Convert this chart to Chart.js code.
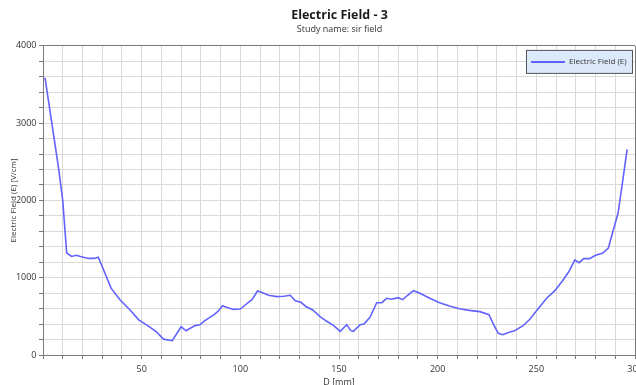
<!DOCTYPE html>
<html>
<head>
<meta charset="utf-8">
<script src="https://cdn.jsdelivr.net/npm/chart.js@4/dist/chart.umd.min.js"></script>
<style>
  html, body { margin: 0; padding: 0; overflow: hidden; background: #ffffff; }
  #wrap { position: relative; width: 679px; height: 388px; }
</style>
</head>
<body>
<div id="wrap"><canvas id="chart" width="679" height="388"></canvas></div>
<script>
// Field magnitude along the probe line
const distanceMm = [
  1, 4, 8, 10, 12, 14.5, 17, 19, 23, 26, 28, 30, 34.5, 39, 44, 48.5, 52.5, 57.5, 61, 65.5,
  70, 72.5, 77, 79.5, 82, 86.5, 88.5, 91, 93, 96.5, 100, 102.5, 106, 108.7, 111, 114.3, 118.5,
  122, 125.3, 127.8, 130.7, 133.4, 136.7, 140.4, 143.8, 147.2, 150.6, 153.9, 156, 157.3, 160.7,
  162.7, 165.7, 169.1, 171.7, 174.2, 176.7, 180, 182.3, 184.8, 187.7, 191, 196, 201, 206, 211,
  216, 221.4, 226, 228.5, 230.7, 233, 236.6, 239, 243.3, 246.7, 250.4, 255.2, 259.4, 263.3,
  266.6, 269.5, 271.7, 274, 277, 280, 283.5, 286.5, 289, 291.4, 293.6, 296
];
const fieldVcm = [
  3590, 3080, 2400, 2000, 1320, 1275, 1290, 1275, 1250, 1250, 1265, 1145, 865, 715, 585, 455, 390, 300, 205, 185,
  366, 313, 380, 390, 444, 520, 560, 638, 617, 590, 595, 647, 720, 828, 810, 773, 755,
  760, 773, 703, 682, 625, 583, 496, 436, 384, 307, 393, 315, 307, 393,
  401, 488, 677, 677, 734, 721, 742, 716, 773, 832, 798, 734, 677, 634, 599,
  578, 561, 522, 388, 281, 263, 298, 315, 379, 462, 583, 734, 832, 962,
  1083, 1230, 1195, 1247, 1247, 1290, 1316, 1385, 1618, 1834, 2222, 2662
];
const seriesLabel = 'Electric Field (E)';
const xLabelStep = 50;    // labelled x ticks
const yLabelStep = 1000;  // labelled y ticks

const lineColor = '#6262ff';
const gridColor = '#d9d9d9';
const frameColor = '#7a7a7a';
const fontFamily = "'Open Sans', 'Noto Sans', sans-serif";

// Legend drawn inside the top-right corner of the plot
const insetLegend = {
  id: 'insetLegend',
  afterDraw(chart) {
    const { ctx, chartArea } = chart;
    const ds = chart.data.datasets[0];
    const w = 107, h = 24;
    const x = chartArea.right - 2 - w;
    const y = chartArea.top + 4;
    ctx.save();
    ctx.fillStyle = '#dce9fb';
    ctx.fillRect(x, y, w, h);
    ctx.strokeStyle = '#555555';
    ctx.lineWidth = 1;
    ctx.strokeRect(x + 0.5, y + 0.5, w - 1, h - 1);
    const cy = y + h / 2;
    ctx.strokeStyle = ds.borderColor;
    ctx.lineWidth = 2;
    ctx.beginPath();
    ctx.moveTo(x + 5, cy);
    ctx.lineTo(x + 39, cy);
    ctx.stroke();
    ctx.fillStyle = '#333333';
    ctx.font = '8px ' + fontFamily;
    ctx.textBaseline = 'middle';
    ctx.textAlign = 'left';
    ctx.fillText(ds.label, x + 43, cy);
    ctx.restore();
  }
};

const points = distanceMm.map((d, i) => ({ x: d, y: fieldVcm[i] }));

new Chart(document.getElementById('chart'), {
  type: 'line',
  data: {
    datasets: [{
      label: seriesLabel,
      data: points,
      borderColor: lineColor,
      borderWidth: 1.6,
      pointRadius: 0,
      tension: 0,
      fill: false
    }]
  },
  options: {
    responsive: false,
    animation: false,
    devicePixelRatio: 1,
    layout: { padding: 0 },
    plugins: {
      legend: { display: false },
      tooltip: { enabled: false },
      title: {
        display: true,
        text: 'Electric Field - 3',
        color: '#1a1a1a',
        font: { family: fontFamily, size: 12.5, weight: 'bold' },
        padding: { top: 8, bottom: 0 }
      },
      subtitle: {
        display: true,
        text: 'Study name: sir field',
        color: '#333333',
        font: { family: fontFamily, size: 9 },
        padding: { top: 1.5, bottom: 10.6 }
      }
    },
    scales: {
      x: {
        type: 'linear',
        min: 0,
        max: 300,
        // plot runs to x = 635; room past it is left for the cut-off last label
        afterFit(scale) { scale.height = 33; scale.paddingLeft = 0; scale.paddingRight = 44; },
        ticks: {
          stepSize: 10,
          autoSkip: false,
          maxRotation: 0,
          padding: 5,
          color: '#333333',
          font: { family: fontFamily, size: 9 },
          callback: v => (v !== 0 && v % xLabelStep === 0) ? v : ''
        },
        grid: {
          color: c => (c.tick && c.tick.value === 300) ? frameColor : gridColor,
          tickColor: frameColor,
          tickLength: 4
        },
        border: { color: frameColor, width: 1 },
        title: {
          display: true,
          text: 'D [mm]',
          color: '#333333',
          font: { family: fontFamily, size: 9 },
          padding: { top: 0, bottom: 0 }
        }
      },
      y: {
        type: 'linear',
        min: 0,
        max: 4000,
        afterFit(scale) { scale.width = 43; scale.paddingTop = 0; scale.paddingBottom = 0; },
        ticks: {
          stepSize: 200,
          autoSkip: false,
          padding: 2.5,
          color: '#333333',
          font: { family: fontFamily, size: 9 },
          callback: v => (v % yLabelStep === 0) ? v : ''
        },
        grid: {
          color: c => (c.tick && c.tick.value === 4000) ? frameColor : gridColor,
          tickColor: frameColor,
          tickLength: 4
        },
        border: { color: frameColor, width: 1 },
        title: {
          display: true,
          text: 'Electric Field (E) [V/cm]',
          color: '#333333',
          font: { family: fontFamily, size: 8 },
          padding: { top: 8.5, bottom: 0 }
        }
      }
    }
  },
  plugins: [insetLegend]
});
</script>
</body>
</html>
